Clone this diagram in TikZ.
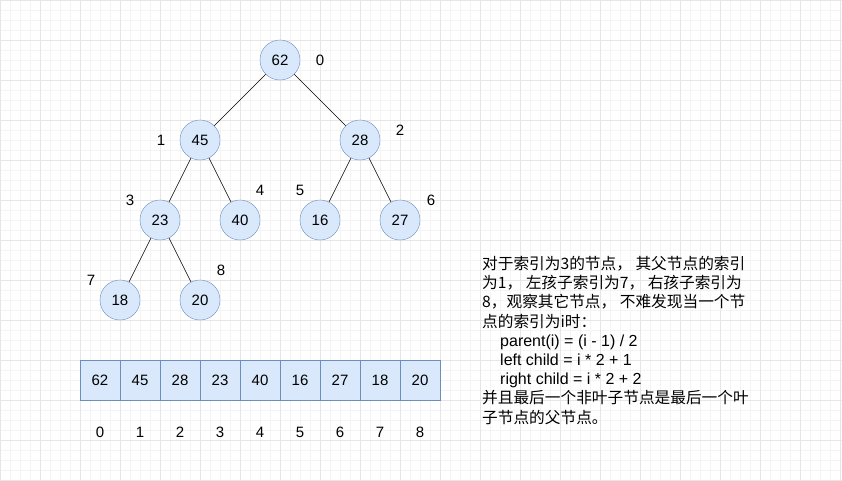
\documentclass[tikz,border=0pt]{standalone}
\usepackage{fontspec}
\setmainfont{Liberation Sans}
\newfontfamily\cjk[Scale=0.98]{Noto Sans CJK SC}
\definecolor{nodefill}{HTML}{DAE8FC}
\definecolor{nodeline}{HTML}{6C8EBF}
\definecolor{gridmin}{HTML}{F4F4F4}
\definecolor{gridmaj}{HTML}{E6E6E6}
\begin{document}
\begin{tikzpicture}[x=1pt,y=-1pt,
  hnode/.style={circle,draw=nodeline,fill=nodefill,minimum size=40pt,inner sep=0pt,font=\fontsize{15}{17}\selectfont},
  cell/.style={rectangle,draw=nodeline,fill=nodefill,minimum width=40pt,minimum height=40pt,inner sep=0pt,font=\fontsize{15}{17}\selectfont},
  lbl/.style={font=\fontsize{15}{17}\selectfont,inner sep=0pt},
  edge/.style={draw=black,line width=0.6pt}]
\useasboundingbox (0,0) rectangle (842,480);
\fill[white] (0,0) rectangle (842,480);
\draw[gridmin,line width=0.5pt] (0,0) grid[step=10pt] (842,480);
\draw[gridmaj,line width=0.7pt] (0,0) grid[step=40pt] (842,480);
\node[hnode] (n0) at (280,60) {62};
\node[hnode] (n1) at (200,140) {45};
\node[hnode] (n2) at (360,140) {28};
\node[hnode] (n3) at (160,220) {23};
\node[hnode] (n4) at (240,220) {40};
\node[hnode] (n5) at (320,220) {16};
\node[hnode] (n6) at (400,220) {27};
\node[hnode] (n7) at (120,300) {18};
\node[hnode] (n8) at (200,300) {20};
\draw[edge] (n0) -- (n1); \draw[edge] (n0) -- (n2);
\draw[edge] (n1) -- (n3); \draw[edge] (n1) -- (n4);
\draw[edge] (n2) -- (n5); \draw[edge] (n2) -- (n6);
\draw[edge] (n3) -- (n7); \draw[edge] (n3) -- (n8);
\node[lbl] (l0) at (320,60) {0};
\node[lbl] (l1) at (161,140) {1};
\node[lbl] (l2) at (400,130) {2};
\node[lbl] (l3) at (130,200) {3};
\node[lbl] (l4) at (260,190) {4};
\node[lbl] (l5) at (300,190) {5};
\node[lbl] (l6) at (431,200) {6};
\node[lbl] (l7) at (91,280) {7};
\node[lbl] (l8) at (221,270) {8};
\foreach \v [count=\i from 0] in {62,45,28,23,40,16,27,18,20} {
  \node[cell] (c\i) at (100+40*\i,380) {\v};
  \node[lbl] (k\i) at (100+40*\i,432) {\i};
}
\node[anchor=north west,inner sep=0pt,align=left,font=\fontsize{16}{19.2}\selectfont] (txt) at (482,256) {%
{\cjk 对于索引为3的节点， 其父节点的索引}\\
{\cjk 为1， 左孩子索引为7， 右孩子索引为}\\
{\cjk 8，观察其它节点， 不难发现当一个节}\\
{\cjk 点的索引为i时：}\\
\hspace*{18pt}parent(i) = (i - 1) / 2\\
\hspace*{18pt}left child = i * 2 + 1\\
\hspace*{18pt}right child = i * 2 + 2\\
{\cjk 并且最后一个非叶子节点是最后一个叶}\\
{\cjk 子节点的父节点。}};
\end{tikzpicture}
\end{document}
